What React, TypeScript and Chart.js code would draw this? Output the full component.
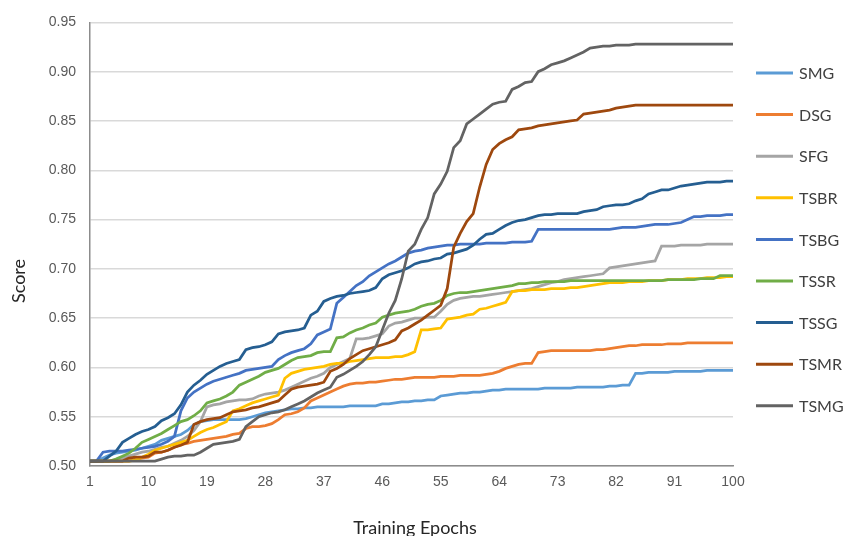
import { useEffect, useRef } from "react";
import { Chart, registerables } from "chart.js";

Chart.register(...registerables);

const EPOCHS = [
  1, 2, 3, 4, 5, 6, 7, 8, 9, 10, 11, 12, 13, 14, 15, 16, 17, 18, 19, 20,
  21, 22, 23, 24, 25, 26, 27, 28, 29, 30, 31, 32, 33, 34, 35, 36, 37, 38, 39, 40,
  41, 42, 43, 44, 45, 46, 47, 48, 49, 50, 51, 52, 53, 54, 55, 56, 57, 58, 59, 60,
  61, 62, 63, 64, 65, 66, 67, 68, 69, 70, 71, 72, 73, 74, 75, 76, 77, 78, 79, 80,
  81, 82, 83, 84, 85, 86, 87, 88, 89, 90, 91, 92, 93, 94, 95, 96, 97, 98, 99, 100,
];
const X_TICK_LABELS = [1, 10, 19, 28, 37, 46, 55, 64, 73, 82, 91, 100];
const Y_MIN = 0.5;
const Y_MAX = 0.95;
const Y_STEP = 0.05;

const SERIES_NAMES = ["SMG", "DSG", "SFG", "TSBR", "TSBG", "TSSR", "TSSG", "TSMR", "TSMG"];
const SERIES_COLORS = ["#5B9BD5", "#ED7D31", "#A5A5A5", "#FFC000", "#4472C4", "#70AD47", "#255E91", "#9E480E", "#636363"];

const SMG = [
  0.505, 0.505, 0.508, 0.511, 0.513, 0.514, 0.515, 0.516, 0.518, 0.520,
  0.522, 0.526, 0.528, 0.530, 0.532, 0.536, 0.542, 0.545, 0.546, 0.547,
  0.547, 0.547, 0.547, 0.547, 0.548, 0.550, 0.552, 0.554, 0.555, 0.556,
  0.557, 0.558, 0.558, 0.559, 0.559, 0.560, 0.560, 0.560, 0.560, 0.560,
  0.561, 0.561, 0.561, 0.561, 0.561, 0.563, 0.563, 0.564, 0.565, 0.565,
  0.566, 0.566, 0.567, 0.567, 0.571, 0.572, 0.573, 0.574, 0.574, 0.575,
  0.575, 0.576, 0.577, 0.577, 0.578, 0.578, 0.578, 0.578, 0.578, 0.578,
  0.579, 0.579, 0.579, 0.579, 0.579, 0.580, 0.580, 0.580, 0.580, 0.580,
  0.581, 0.581, 0.582, 0.582, 0.594, 0.594, 0.595, 0.595, 0.595, 0.595,
  0.596, 0.596, 0.596, 0.596, 0.596, 0.597, 0.597, 0.597, 0.597, 0.597,
];
const DSG = [
  0.505, 0.505, 0.505, 0.505, 0.505, 0.505, 0.505, 0.507, 0.508, 0.509,
  0.513, 0.514, 0.516, 0.519, 0.522, 0.523, 0.525, 0.526, 0.527, 0.528,
  0.529, 0.530, 0.532, 0.533, 0.538, 0.540, 0.540, 0.541, 0.543, 0.547,
  0.552, 0.553, 0.555, 0.559, 0.566, 0.569, 0.572, 0.575, 0.578, 0.581,
  0.583, 0.584, 0.584, 0.585, 0.585, 0.586, 0.587, 0.588, 0.588, 0.589,
  0.590, 0.590, 0.590, 0.590, 0.591, 0.591, 0.591, 0.592, 0.592, 0.592,
  0.592, 0.593, 0.594, 0.596, 0.599, 0.601, 0.603, 0.604, 0.604, 0.615,
  0.616, 0.617, 0.617, 0.617, 0.617, 0.617, 0.617, 0.617, 0.618, 0.618,
  0.619, 0.620, 0.621, 0.622, 0.622, 0.623, 0.623, 0.623, 0.623, 0.624,
  0.624, 0.624, 0.625, 0.625, 0.625, 0.625, 0.625, 0.625, 0.625, 0.625,
];
const SFG = [
  0.505, 0.505, 0.505, 0.505, 0.505, 0.508, 0.510, 0.512, 0.514, 0.515,
  0.517, 0.519, 0.520, 0.523, 0.526, 0.530, 0.536, 0.545, 0.560, 0.562,
  0.563, 0.565, 0.566, 0.567, 0.567, 0.568, 0.571, 0.573, 0.574, 0.575,
  0.577, 0.580, 0.583, 0.586, 0.589, 0.591, 0.594, 0.600, 0.603, 0.606,
  0.609, 0.629, 0.629, 0.630, 0.632, 0.634, 0.642, 0.645, 0.646, 0.648,
  0.650, 0.650, 0.651, 0.651, 0.657, 0.664, 0.668, 0.670, 0.671, 0.672,
  0.672, 0.673, 0.674, 0.675, 0.676, 0.677, 0.678, 0.679, 0.680, 0.682,
  0.684, 0.686, 0.687, 0.689, 0.690, 0.691, 0.692, 0.693, 0.694, 0.695,
  0.701, 0.702, 0.703, 0.704, 0.705, 0.706, 0.707, 0.708, 0.723, 0.723,
  0.723, 0.724, 0.724, 0.724, 0.724, 0.725, 0.725, 0.725, 0.725, 0.725,
];
const TSBR = [
  0.505, 0.505, 0.505, 0.505, 0.505, 0.505, 0.505, 0.506, 0.509, 0.512,
  0.516, 0.518, 0.520, 0.522, 0.524, 0.526, 0.530, 0.534, 0.537, 0.539,
  0.542, 0.545, 0.556, 0.558, 0.561, 0.564, 0.566, 0.568, 0.570, 0.572,
  0.589, 0.594, 0.596, 0.598, 0.599, 0.600, 0.601, 0.603, 0.604, 0.604,
  0.606, 0.607, 0.608, 0.609, 0.610, 0.610, 0.610, 0.611, 0.611, 0.613,
  0.616, 0.638, 0.638, 0.639, 0.640, 0.649, 0.650, 0.651, 0.653, 0.654,
  0.659, 0.660, 0.662, 0.664, 0.666, 0.677, 0.678, 0.678, 0.679, 0.679,
  0.679, 0.680, 0.680, 0.680, 0.681, 0.681, 0.682, 0.683, 0.684, 0.685,
  0.686, 0.686, 0.686, 0.687, 0.687, 0.687, 0.688, 0.688, 0.688, 0.689,
  0.689, 0.689, 0.690, 0.690, 0.690, 0.691, 0.691, 0.691, 0.692, 0.692,
];
const TSBG = [
  0.505, 0.505, 0.514, 0.515, 0.515, 0.515, 0.516, 0.517, 0.518, 0.519,
  0.520, 0.522, 0.525, 0.530, 0.556, 0.569, 0.575, 0.579, 0.583, 0.586,
  0.588, 0.590, 0.592, 0.594, 0.597, 0.598, 0.599, 0.600, 0.601, 0.608,
  0.612, 0.615, 0.617, 0.619, 0.624, 0.633, 0.636, 0.639, 0.665, 0.671,
  0.677, 0.683, 0.687, 0.693, 0.697, 0.701, 0.705, 0.708, 0.712, 0.716,
  0.718, 0.719, 0.721, 0.722, 0.723, 0.724, 0.724, 0.725, 0.725, 0.725,
  0.725, 0.726, 0.726, 0.726, 0.726, 0.727, 0.727, 0.727, 0.728, 0.740,
  0.740, 0.740, 0.740, 0.740, 0.740, 0.740, 0.740, 0.740, 0.740, 0.740,
  0.740, 0.741, 0.742, 0.742, 0.742, 0.743, 0.744, 0.745, 0.745, 0.745,
  0.746, 0.747, 0.750, 0.753, 0.753, 0.754, 0.754, 0.754, 0.755, 0.755,
];
const TSSR = [
  0.505, 0.505, 0.505, 0.505, 0.507, 0.510, 0.513, 0.518, 0.524, 0.527,
  0.530, 0.533, 0.537, 0.541, 0.545, 0.547, 0.551, 0.556, 0.564, 0.566,
  0.568, 0.571, 0.575, 0.582, 0.585, 0.588, 0.591, 0.595, 0.597, 0.599,
  0.603, 0.607, 0.610, 0.611, 0.612, 0.615, 0.616, 0.616, 0.630, 0.631,
  0.635, 0.638, 0.640, 0.643, 0.645, 0.651, 0.653, 0.655, 0.656, 0.657,
  0.659, 0.662, 0.664, 0.665, 0.668, 0.673, 0.675, 0.676, 0.676, 0.677,
  0.678, 0.679, 0.680, 0.681, 0.682, 0.683, 0.685, 0.685, 0.686, 0.686,
  0.687, 0.687, 0.687, 0.687, 0.688, 0.688, 0.688, 0.688, 0.688, 0.688,
  0.688, 0.688, 0.688, 0.688, 0.688, 0.688, 0.688, 0.688, 0.688, 0.689,
  0.689, 0.689, 0.689, 0.689, 0.690, 0.690, 0.690, 0.693, 0.693, 0.693,
];
const TSSG = [
  0.505, 0.505, 0.505, 0.510, 0.515, 0.524, 0.528, 0.532, 0.535, 0.537,
  0.540, 0.546, 0.549, 0.553, 0.562, 0.575, 0.582, 0.587, 0.593, 0.597,
  0.601, 0.604, 0.606, 0.608, 0.618, 0.620, 0.621, 0.623, 0.626, 0.634,
  0.636, 0.637, 0.638, 0.640, 0.653, 0.657, 0.667, 0.670, 0.672, 0.673,
  0.675, 0.676, 0.677, 0.678, 0.681, 0.690, 0.694, 0.696, 0.698, 0.701,
  0.705, 0.707, 0.708, 0.710, 0.711, 0.715, 0.716, 0.718, 0.720, 0.724,
  0.730, 0.735, 0.736, 0.740, 0.744, 0.747, 0.749, 0.750, 0.752, 0.754,
  0.755, 0.755, 0.756, 0.756, 0.756, 0.756, 0.758, 0.759, 0.760, 0.763,
  0.764, 0.765, 0.765, 0.766, 0.769, 0.771, 0.776, 0.778, 0.780, 0.780,
  0.782, 0.784, 0.785, 0.786, 0.787, 0.788, 0.788, 0.788, 0.789, 0.789,
];
const TSMR = [
  0.505, 0.505, 0.505, 0.505, 0.505, 0.505, 0.508, 0.509, 0.509, 0.510,
  0.514, 0.514, 0.516, 0.519, 0.521, 0.524, 0.542, 0.545, 0.547, 0.548,
  0.549, 0.552, 0.555, 0.556, 0.557, 0.559, 0.560, 0.562, 0.564, 0.566,
  0.572, 0.578, 0.580, 0.581, 0.582, 0.583, 0.585, 0.596, 0.599, 0.603,
  0.609, 0.613, 0.617, 0.619, 0.621, 0.623, 0.625, 0.628, 0.637, 0.640,
  0.644, 0.648, 0.653, 0.658, 0.663, 0.680, 0.722, 0.736, 0.748, 0.756,
  0.783, 0.806, 0.821, 0.827, 0.831, 0.834, 0.841, 0.842, 0.843, 0.845,
  0.846, 0.847, 0.848, 0.849, 0.850, 0.851, 0.857, 0.858, 0.859, 0.860,
  0.861, 0.863, 0.864, 0.865, 0.866, 0.866, 0.866, 0.866, 0.866, 0.866,
  0.866, 0.866, 0.866, 0.866, 0.866, 0.866, 0.866, 0.866, 0.866, 0.866,
];
const TSMG = [
  0.505, 0.505, 0.505, 0.505, 0.505, 0.505, 0.505, 0.505, 0.505, 0.505,
  0.505, 0.507, 0.509, 0.510, 0.510, 0.511, 0.511, 0.514, 0.518, 0.522,
  0.523, 0.524, 0.525, 0.527, 0.540, 0.545, 0.550, 0.552, 0.554, 0.555,
  0.557, 0.560, 0.563, 0.566, 0.570, 0.574, 0.577, 0.580, 0.590, 0.593,
  0.597, 0.601, 0.606, 0.613, 0.621, 0.638, 0.655, 0.668, 0.690, 0.718,
  0.725, 0.740, 0.752, 0.776, 0.786, 0.799, 0.823, 0.830, 0.847, 0.852,
  0.857, 0.862, 0.867, 0.869, 0.870, 0.882, 0.885, 0.889, 0.890, 0.900,
  0.903, 0.907, 0.909, 0.911, 0.914, 0.917, 0.920, 0.924, 0.925, 0.926,
  0.926, 0.927, 0.927, 0.927, 0.928, 0.928, 0.928, 0.928, 0.928, 0.928,
  0.928, 0.928, 0.928, 0.928, 0.928, 0.928, 0.928, 0.928, 0.928, 0.928,
];

const SERIES_VALUES = [SMG, DSG, SFG, TSBR, TSBG, TSSR, TSSG, TSMR, TSMG];

const X_TITLE = "Training Epochs";
const Y_TITLE = "Score";

export default function App() {
  const canvasRef = useRef<HTMLCanvasElement | null>(null);

  useEffect(() => {
    document.body.style.margin = "0";
    const canvas = canvasRef.current;
    if (!canvas) return;

    const sideLegend = {
      id: "sideLegend",
      afterDraw(chart: any) {
        const ctx = chart.ctx as CanvasRenderingContext2D;
        ctx.save();
        chart.data.datasets.forEach((ds: any, i: number) => {
          const y = 73 + i * 41.6;
          ctx.strokeStyle = ds.borderColor;
          ctx.lineWidth = 3;
          ctx.lineCap = "butt";
          ctx.beginPath();
          ctx.moveTo(756, y);
          ctx.lineTo(793, y);
          ctx.stroke();
          ctx.fillStyle = "#404040";
          ctx.font = "16px Lato";
          ctx.textAlign = "left";
          ctx.textBaseline = "middle";
          ctx.fillText(ds.label, 799, y + 1);
        });
        // axis titles
        ctx.fillStyle = "#262626";
        ctx.font = "18px Lato";
        ctx.textAlign = "center";
        ctx.textBaseline = "alphabetic";
        ctx.fillText(X_TITLE, 415, 534);
        ctx.translate(25, 281);
        ctx.rotate(-Math.PI / 2);
        ctx.fillText(Y_TITLE, 0, 0);
        ctx.restore();
      },
    };

    const chart = new Chart(canvas, {
      type: "line",
      data: {
        labels: EPOCHS,
        datasets: SERIES_NAMES.map((name, i) => ({
          label: name,
          data: SERIES_VALUES[i],
          borderColor: SERIES_COLORS[i],
          backgroundColor: SERIES_COLORS[i],
          borderWidth: 2.75,
          pointRadius: 0,
          pointHoverRadius: 0,
          tension: 0,
          fill: false,
          order: SERIES_NAMES.length - i,
        })),
      },
      options: {
        responsive: false,
        animation: false,
        events: [],
        layout: { padding: { top: 21, right: 110, left: 0, bottom: 0 } },
        plugins: {
          legend: { display: false },
          tooltip: { enabled: false },
        },
        scales: {
          x: {
            type: "category",
            offset: false,
            afterFit: (s: any) => {
              s.height = 70;
            },
            grid: { display: false, drawTicks: false },
            border: { display: true, color: "#8c8c8c", width: 1.5 },
            ticks: {
              autoSkip: false,
              maxRotation: 0,
              minRotation: 0,
              padding: 8,
              color: "#595959",
              font: { family: "'Liberation Sans', Arial, sans-serif", size: 14 },
              callback: (_v: any, index: number) =>
                X_TICK_LABELS.includes(EPOCHS[index]) ? String(EPOCHS[index]) : "",
            },
          },
          y: {
            min: Y_MIN,
            max: Y_MAX,
            afterFit: (s: any) => {
              s.width = 90;
            },
            grid: { color: "#d9d9d9", lineWidth: 1.5, drawTicks: false },
            border: { display: true, color: "#8c8c8c", width: 1.5 },
            ticks: {
              stepSize: Y_STEP,
              padding: 14,
              color: "#595959",
              font: { family: "'Liberation Sans', Arial, sans-serif", size: 14 },
              callback: (v: any) => Number(v).toFixed(2),
            },
          },
        },
      },
      plugins: [sideLegend],
    });

    return () => {
      chart.destroy();
    };
  }, []);

  return (
    <div style={{ width: 843, height: 536, background: "#ffffff" }}>
      <canvas ref={canvasRef} width={843} height={536} style={{ display: "block" }} />
    </div>
  );
}
